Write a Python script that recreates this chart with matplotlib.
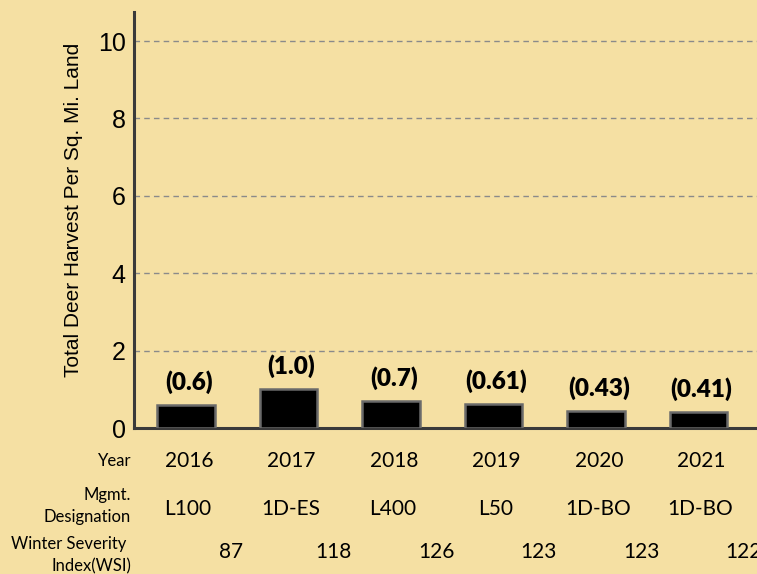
import numpy as np
import matplotlib.pyplot as plt

# data
years = ['2016', '2017', '2018', '2019', '2020', '2021']
mgmt = ['L100', '1D-ES', 'L400', 'L50', '1D-BO', '1D-BO']
wsi = ['87', '118', '126', '123', '123', '122']
harvest = [0.6, 1.0, 0.7, 0.61, 0.43, 0.41]
harvest_labels = ['(0.6)', '(1.0)', '(0.7)', '(0.61)', '(0.43)', '(0.41)']

bg = '#F5E0A3'
x = np.arange(len(years))

fig = plt.figure(figsize=(7.57, 5.74), dpi=100, facecolor=bg)
ax = fig.add_axes([134/757, 1 - 428/574, 1 - 134/757, 416/574])
ax.set_facecolor(bg)

ax.bar(x, harvest, width=0.56, color='black', edgecolor='#6a6a6a', linewidth=1.8, zorder=3)
for xi, v, lab in zip(x, harvest, harvest_labels):
    ax.annotate(lab, (xi, v), xytext=(2, 8), textcoords='offset points',
                ha='center', va='bottom', fontsize=17.5, fontweight='heavy', family='Lato')

ax.set_xlim(-0.505, 5.57)
ax.set_ylim(0, 10.75)
ax.set_yticks([0, 2, 4, 6, 8, 10])
ax.set_xticks([])
ax.tick_params(axis='y', length=0, pad=6, labelsize=18)
for t in ax.get_yticklabels():
    t.set_family('Liberation Sans')
ax.yaxis.grid(True, color='#8a8a8a', linestyle=(0, (4, 3)), linewidth=1)
ax.set_axisbelow(True)
for s in ['top', 'right']:
    ax.spines[s].set_visible(False)
for s in ['left', 'bottom']:
    ax.spines[s].set_color('#3a3a3a')
    ax.spines[s].set_linewidth(2.2)

ax.set_ylabel('Total Deer Harvest Per Sq. Mi. Land', fontsize=15,
              family='Liberation Sans')
ax.yaxis.set_label_coords(-0.082, 0.524)

# table rows under the axis
tr = ax.get_xaxis_transform()
for xi, yr, m, w in zip(x, years, mgmt, wsi):
    ax.text(xi + 0.03, -0.079, yr, transform=tr, ha='center', va='center',
            fontsize=15, family='Lato', clip_on=False)
    ax.text(xi + 0.02, -0.195, m, transform=tr, ha='center', va='center',
            fontsize=15, family='Lato', clip_on=False)
    ax.text(xi + 0.44, -0.298, w, transform=tr, ha='center', va='center',
            fontsize=15, family='Lato', clip_on=False)

fig.text(131/757, 1 - 461/574, 'Year', ha='right', va='center', fontsize=12, family='Lato')
fig.text(131/757, 1 - 506/574, 'Mgmt.\nDesignation', ha='right', va='center',
         fontsize=12, family='Lato', multialignment='right', linespacing=1.5)
fig.text(131/757, 1 - 555/574, 'Winter Severity \nIndex(WSI)', ha='right', va='center',
         fontsize=12, family='Lato', multialignment='right', linespacing=1.5)

fig.savefig('out.png', dpi=100, facecolor=bg)
